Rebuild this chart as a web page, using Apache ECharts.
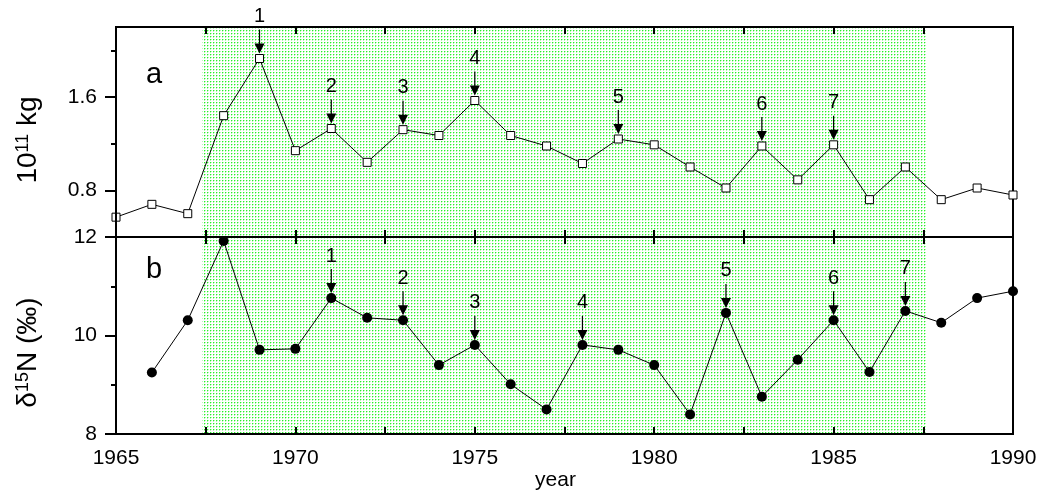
<!DOCTYPE html>
<html>
<head>
<meta charset="utf-8">
<script src="https://cdn.jsdelivr.net/npm/echarts@6/dist/echarts.min.js"></script>
<style>
html,body{margin:0;padding:0;background:#fff;}
#chart{width:1043px;height:492px;}
</style>
</head>
<body>
<div id="chart"></div>
<script>
// ---- data ----
const massYears = [1965,1966,1967,1968,1969,1970,1971,1972,1973,1974,1975,1976,1977,1978,1979,1980,1981,1982,1983,1984,1985,1986,1987,1988,1989,1990];
const mass = [0.57,0.68,0.60,1.44,1.93,1.14,1.33,1.04,1.32,1.27,1.57,1.27,1.18,1.03,1.24,1.19,1.00,0.82,1.18,0.89,1.19,0.72,1.00,0.72,0.82,0.76];
const d15NYears = [1966,1967,1968,1969,1970,1971,1972,1973,1974,1975,1976,1977,1978,1979,1980,1981,1982,1983,1984,1985,1986,1987,1988,1989,1990];
const d15N = [9.25,10.31,11.92,9.71,9.73,10.76,10.36,10.31,9.40,9.81,9.01,8.50,9.81,9.71,9.40,8.40,10.46,8.76,9.51,10.31,9.26,10.50,10.26,10.76,10.90];
const topArrowYears = [1969,1971,1973,1975,1979,1983,1985];
const topArrowLabels = ['1','2','3','4','5','6','7'];
const bottomArrowYears = [1971,1973,1975,1978,1982,1985,1987];
const bottomArrowLabels = ['1','2','3','4','5','6','7'];
const shadedRange = [1967.4, 1987.6];
const xTickLabels = [1965,1970,1975,1980,1985,1990];
const topYTickLabels = [0.8,1.6];
const topYMinorTicks = [1.2,2.0];
const bottomYTickLabels = [8,10,12];
const panelLetters = ['a','b'];

// ---- build ----
const FONT = "'Liberation Sans', Arial, sans-serif";
const pc = document.createElement('canvas');
pc.width = 3; pc.height = 3;
const pctx = pc.getContext('2d');
pctx.fillStyle = '#ffffff'; pctx.fillRect(0,0,3,3);
pctx.fillStyle = '#b4fab4'; pctx.fillRect(1,0,1,1); pctx.fillRect(0,1,1,1);
pctx.fillStyle = '#28f028'; pctx.fillRect(0,0,1,1);
const pattern = {image: pc, repeat: 'repeat'};

const massData = massYears.map((y,i)=>[y, mass[i]]);
const d15NData = d15NYears.map((y,i)=>[y, d15N[i]]);
const topArrows = topArrowYears.map((y,i)=>[y, mass[massYears.indexOf(y)], topArrowLabels[i]]);
const bottomArrows = bottomArrowYears.map((y,i)=>[y, d15N[d15NYears.indexOf(y)], bottomArrowLabels[i]]);

const arrowPath = 'path://M4.4,0L5.6,0L5.6,14L10,14L5,24L0,14L4.4,14Z';
const tickStyle = {color:'#000', width:2};
const lineAxis = {show:true, lineStyle:{color:'#000', width:2}};

function xAx(grid, pos, labels){
  return {
    type:'value', gridIndex:grid, position:pos, min:1965, max:1990, interval:2.5, z:10,
    axisLine: lineAxis,
    axisTick: {show:true, inside:true, length:7, lineStyle:tickStyle},
    axisLabel: labels ? {
      show:true, fontSize:21, color:'#000', fontFamily:FONT, margin:14,
      showMinLabel:true, showMaxLabel:true,
      formatter: v => xTickLabels.indexOf(Math.round(v*10)/10) >= 0 ? String(v) : ''
    } : {show:false},
    splitLine:{show:false}
  };
}

const markArea = {
  silent:true,
  itemStyle:{color: pattern},
  data:[[{xAxis: shadedRange[0]},{xAxis: shadedRange[1]}]]
};

const arrowSeries = (xi, yi, data) => ({
  type:'scatter', xAxisIndex:xi, yAxisIndex:yi, data:data, z:4,
  symbol:arrowPath, symbolSize:[10,24], symbolOffset:[0,-17],
  itemStyle:{color:'#000', opacity:1},
  label:{show:true, position:'top', distance:3, fontSize:20, color:'#000', fontFamily:FONT,
    formatter: p => p.value[2]}
});

const option = {
  animation:false,
  backgroundColor:'#fff',
  grid:[
    {left:116, top:27, width:897, height:210, show:true, borderColor:'#000', borderWidth:2, backgroundColor:'transparent'},
    {left:116, top:237, width:897, height:208, show:true, borderColor:'#000', borderWidth:2, backgroundColor:'transparent'}
  ],
  xAxis:[
    xAx(0,'bottom',false),
    xAx(0,'top',false),
    Object.assign(xAx(1,'bottom',true), {
      name:'year', nameLocation:'middle', nameGap:20,
      nameTextStyle:{fontSize:21, color:'#000', fontFamily:FONT, padding:[0,18,0,0], verticalAlign:'top'}
    }),
    xAx(1,'top',false)
  ],
  yAxis:[
    {
      type:'value', gridIndex:0, position:'left', min:0.4, max:2.2, interval:0.4, z:10,
      axisLine: lineAxis,
      axisTick:{show:true, customValues: topYTickLabels, length:11, lineStyle:tickStyle},
      axisLabel:{show:true, customValues: topYTickLabels, fontSize:21, color:'#000', fontFamily:FONT, margin:19,
        formatter: v => topYTickLabels.some(t=>Math.abs(t-v)<1e-6) ? v.toFixed(1) : ''},
      splitLine:{show:false},
      name:'{n|10}{s|11}{n| kg}', nameLocation:'middle', nameRotate:90, nameGap:74,
      nameTextStyle:{color:'#000', fontFamily:FONT, padding:[0,16,0,0], rich:{
        n:{fontSize:28, fontFamily:FONT, color:'#000'},
        s:{fontSize:18, fontFamily:FONT, color:'#000', verticalAlign:'top'}
      }}
    },
    {
      type:'value', gridIndex:0, position:'left', min:0.4, max:2.2, interval:0.4, z:10,
      axisLine:{show:false},
      axisTick:{show:true, customValues: topYMinorTicks, length:5, lineStyle:tickStyle},
      axisLabel:{show:false}, splitLine:{show:false}
    },
    {
      type:'value', gridIndex:1, position:'left', min:8, max:12, interval:2, z:10,
      axisLine: lineAxis,
      axisTick:{show:true, length:11, lineStyle:tickStyle},
      minorTick:{show:true, splitNumber:2, length:5, lineStyle:tickStyle},
      axisLabel:{show:true, fontSize:21, color:'#000', fontFamily:FONT, margin:19,
        showMinLabel:true, showMaxLabel:true,
        formatter: v => bottomYTickLabels.indexOf(v) >= 0 ? String(v) : ''},
      splitLine:{show:false},
      name:'{n|δ}{s|15}{n|N (‰)}', nameLocation:'middle', nameRotate:90, nameGap:74,
      nameTextStyle:{color:'#000', fontFamily:FONT, padding:[0,34,0,0], rich:{
        n:{fontSize:28, fontFamily:FONT, color:'#000'},
        s:{fontSize:18, fontFamily:FONT, color:'#000', verticalAlign:'top'}
      }}
    }
  ],
  graphic:[
    {type:'text', left:146, top:60, style:{text:panelLetters[0], font:'29px '+FONT, fill:'#000'}},
    {type:'text', left:146, top:255, style:{text:panelLetters[1], font:'29px '+FONT, fill:'#000'}}
  ],
  series:[
    {
      type:'line', xAxisIndex:0, yAxisIndex:0, data:massData, z:3,
      symbol:'rect', symbolSize:8, showAllSymbol:true,
      itemStyle:{color:'#fff', borderColor:'#000', borderWidth:1},
      lineStyle:{color:'#000', width:1},
      markArea: markArea
    },
    {
      type:'line', xAxisIndex:2, yAxisIndex:2, data:d15NData, z:3,
      symbol:'circle', symbolSize:10, showAllSymbol:true,
      itemStyle:{color:'#000'},
      lineStyle:{color:'#000', width:1},
      markArea: markArea
    },
    arrowSeries(0, 0, topArrows),
    arrowSeries(2, 2, bottomArrows)
  ]
};
const chart = echarts.init(document.getElementById('chart'), null, {renderer:'canvas'});
chart.setOption(option);
</script>
</body>
</html>
